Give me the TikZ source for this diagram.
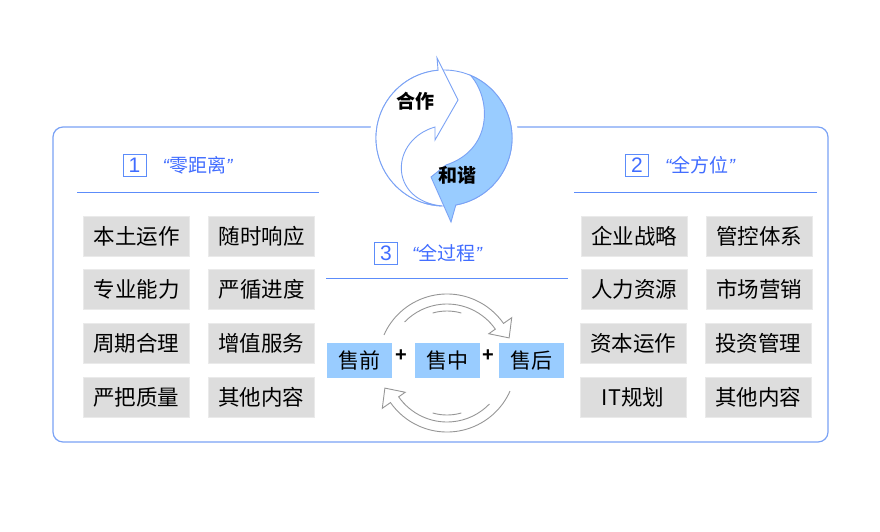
\documentclass[tikz,border=0pt]{standalone}
\usepackage{fontspec}
\setmainfont{Liberation Sans}
\newfontfamily\cjk{Noto Sans CJK SC}
\usepackage{tikz}
\usepackage{xcolor}

\definecolor{frameblue}{RGB}{122,162,245}
\definecolor{headblue}{RGB}{64,108,255}
\definecolor{lineblue}{RGB}{92,140,250}
\definecolor{boxgray}{RGB}{221,221,221}
\definecolor{boxedge}{RGB}{234,234,234}
\definecolor{skyfill}{RGB}{153,204,255}
\definecolor{ringgray}{RGB}{150,150,150}

\newcommand{\quoted}[1]{{\rmfamily\itshape ``}#1{\rmfamily\itshape ''}}

\tikzset{
  itembox/.style={fill=boxgray,draw=boxedge,line width=1pt,minimum width=106pt,minimum height=40pt,inner sep=0pt,font=\cjk\fontsize{21.5}{25}\selectfont},
  salebox/.style={fill=skyfill,minimum width=65pt,minimum height=35pt,inner sep=0pt,font=\cjk\fontsize{21}{24}\selectfont},
  numbox/.style={draw=lineblue,line width=0.9pt,text=headblue,minimum width=23pt,minimum height=22pt,inner sep=0pt,font=\fontsize{21}{24}\selectfont},
  headtext/.style={text=headblue,inner sep=0pt,font=\cjk\fontsize{19}{22}\selectfont},
}

\begin{document}
\begin{tikzpicture}[x=1pt,y=-1pt]
\useasboundingbox (0,0) rectangle (880,532);

% outer frame
\draw[frameblue,line width=1.2pt,rounded corners=10pt] (53,127) rectangle (828,442);

% cooperation symbol
\fill[white] (444,138) circle[radius=74];
\draw[frameblue,fill=white,line width=0.9pt] (444,138) circle[radius=68];
\draw[frameblue,fill=white,line width=0.9pt] (92:68) ++(444,138) coordinate (wbot)
  (wbot) arc[start angle=92,end angle=265,radius=68] -- (437,58) -- (458,100) -- (435,140) -- (435,127)
  .. controls (390,140) and (388,200) .. (wbot) -- cycle;
\draw[frameblue,fill=skyfill,line width=0.9pt] (470.6,75.4) arc[start angle=-67,end angle=80,radius=68]
  -- (451,222) -- (431,177) -- (446,165) .. controls (492,150) and (492,100) .. (470.6,75.4) -- cycle;
\node[font=\cjk\bfseries\fontsize{19}{22}\selectfont] (hezuo) at (415,101) {合作};
\node[font=\cjk\bfseries\fontsize{19}{22}\selectfont] (hexie) at (457,175) {和谐};

% headings
\node[numbox] (num1) at (134.5,165) {1};
\node[headtext] (head1) at (197.5,165) {\quoted{零距离}};
\draw[lineblue,line width=1pt] (77,192) -- (319,192);
\node[numbox] (num2) at (637,165) {2};
\node[headtext] (head2) at (700,165) {\quoted{全方位}};
\draw[lineblue,line width=1pt] (574,192) -- (817,192);
\node[numbox] (num3) at (386,253) {3};
\node[headtext] (head3) at (447,253) {\quoted{全过程}};
\draw[lineblue,line width=1pt] (326,278) -- (568,278);

% left items
\node[itembox] (l11) at (136.5,236) {本土运作};
\node[itembox] (l12) at (261.5,236) {随时响应};
\node[itembox] (l21) at (136.5,289) {专业能力};
\node[itembox] (l22) at (261.5,289) {严循进度};
\node[itembox] (l31) at (136,343) {周期合理};
\node[itembox] (l32) at (261,343) {增值服务};
\node[itembox] (l41) at (136,397) {严把质量};
\node[itembox] (l42) at (261,397) {其他内容};

% right items
\node[itembox] (r11) at (634,236) {企业战略};
\node[itembox] (r12) at (759,236) {管控体系};
\node[itembox] (r21) at (634,289) {人力资源};
\node[itembox] (r22) at (759,289) {市场营销};
\node[itembox] (r31) at (633,343) {资本运作};
\node[itembox] (r32) at (758,343) {投资管理};
\node[itembox] (r41) at (633,397) {IT规划};
\node[itembox] (r42) at (758,397) {其他内容};

% sales cycle
\begin{scope}[shift={(447,363)}]
\foreach \turn in {0,180}{
  \begin{scope}[rotate=\turn,draw=ringgray,line width=0.9pt]
  \draw (204:69) arc[start angle=204,end angle=325,radius=69] -- (325:79) -- (338:67) -- (325:51) -- (325:59)
    arc[start angle=325,end angle=224,radius=59];
  \draw (254:52) arc[start angle=254,end angle=286,radius=52];
  \end{scope}
}
\end{scope}
\node[salebox] (pre) at (359.5,360.5) {售前};
\node[salebox] (mid) at (447,360.5) {售中};
\node[salebox] (post) at (531,360.5) {售后};
\node[font=\bfseries\fontsize{20}{22}\selectfont,inner sep=0pt] (plus1) at (401,356) {+};
\node[font=\bfseries\fontsize{20}{22}\selectfont,inner sep=0pt] (plus2) at (488,356) {+};
\end{tikzpicture}
\end{document}
